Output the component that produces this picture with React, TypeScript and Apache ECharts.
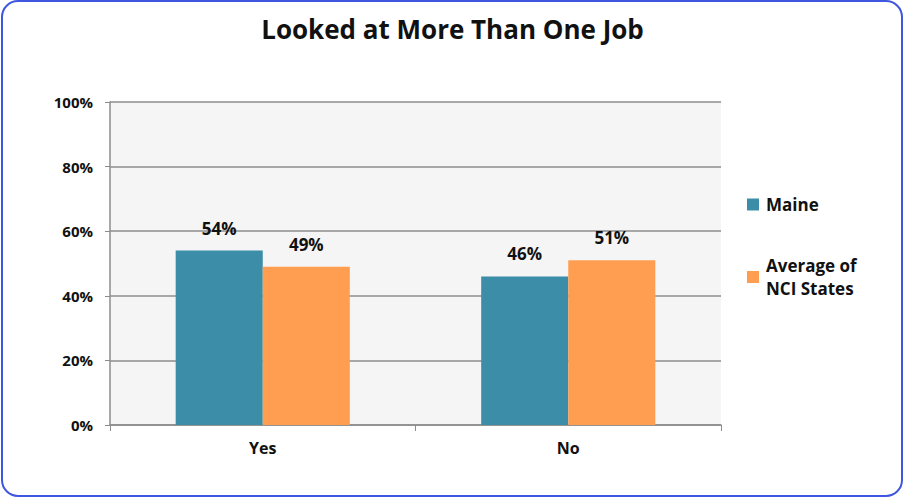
import React, { useEffect, useRef } from "react";
import * as echarts from "echarts";

const categories = ["Yes", "No"];
const maineValues = [54, 46];
const nciValues = [49, 51];
const seriesNames = ["Maine", "Average of\nNCI States"];
const yTicks = [0, 20, 40, 60, 80, 100];

const FONT = "'Open Sans', Lato, sans-serif";

export default function App() {
  const ref = useRef<HTMLDivElement>(null);
  useEffect(() => {
    document.body.style.margin = "0";
    const chart = echarts.init(ref.current!, null, { renderer: "svg" });
    chart.setOption({
      animation: false,
      backgroundColor: "#ffffff",
      title: {
        text: "Looked at More Than One Job",
        left: "center",
        top: 11,
        textStyle: { fontFamily: FONT, fontWeight: "bold", fontSize: 26, color: "#111" },
      },
      graphic: [
        {
          type: "rect",
          shape: { x: 2, y: 1, width: 900, height: 495, r: 16 },
          style: { fill: "none", stroke: "#3F57E0", lineWidth: 2 },
          silent: true,
        },
      ],
      legend: {
        orient: "vertical",
        left: 747,
        top: 193,
        padding: 0,
        itemWidth: 12,
        itemHeight: 12,
        itemGap: 38,
        icon: "rect",
        data: seriesNames,
        textStyle: { fontFamily: FONT, fontWeight: "bold", fontSize: 17, color: "#111", lineHeight: 23, padding: [0, 0, 0, 2] },
      },
      grid: { left: 110, right: 184, top: 102, bottom: 74, show: true, backgroundColor: "#F5F5F5", borderWidth: 0 },
      xAxis: {
        type: "category",
        data: categories,
        axisLine: { lineStyle: { color: "#8c8c8c", width: 1.5 } },
        axisTick: { show: true, length: 6, lineStyle: { color: "#8c8c8c" } },
        axisLabel: { fontFamily: FONT, fontWeight: "bold", fontSize: 16, color: "#111", margin: 15 },
      },
      yAxis: {
        type: "value",
        min: yTicks[0],
        max: yTicks[yTicks.length - 1],
        interval: 20,
        axisLine: { show: true, lineStyle: { color: "#8c8c8c", width: 1.5 } },
        axisTick: { show: true, length: 5, lineStyle: { color: "#8c8c8c" } },
        splitLine: { lineStyle: { color: "#8c8c8c", width: 1.5 } },
        axisLabel: {
          fontFamily: FONT,
          fontWeight: "bold",
          fontSize: 15,
          color: "#111",
          margin: 17,
          formatter: (v: number) => v + "%",
        },
      },
      series: [
        {
          name: seriesNames[0],
          type: "bar",
          data: maineValues,
          barGap: "0%",
          barCategoryGap: "43%",
          itemStyle: { color: "#3C8DA7" },
          label: {
            show: true,
            position: "top",
            distance: 14,
            formatter: "{c}%",
            fontFamily: FONT,
            fontWeight: "bold",
            fontSize: 17,
            color: "#111",
          },
        },
        {
          name: seriesNames[1],
          type: "bar",
          data: nciValues,
          itemStyle: { color: "#FF9E50" },
          label: {
            show: true,
            position: "top",
            distance: 14,
            formatter: "{c}%",
            fontFamily: FONT,
            fontWeight: "bold",
            fontSize: 17,
            color: "#111",
          },
        },
      ],
    });
    return () => chart.dispose();
  }, []);
  return <div ref={ref} style={{ width: 905, height: 499, position: "absolute", left: 0, top: 0 }} />;
}
